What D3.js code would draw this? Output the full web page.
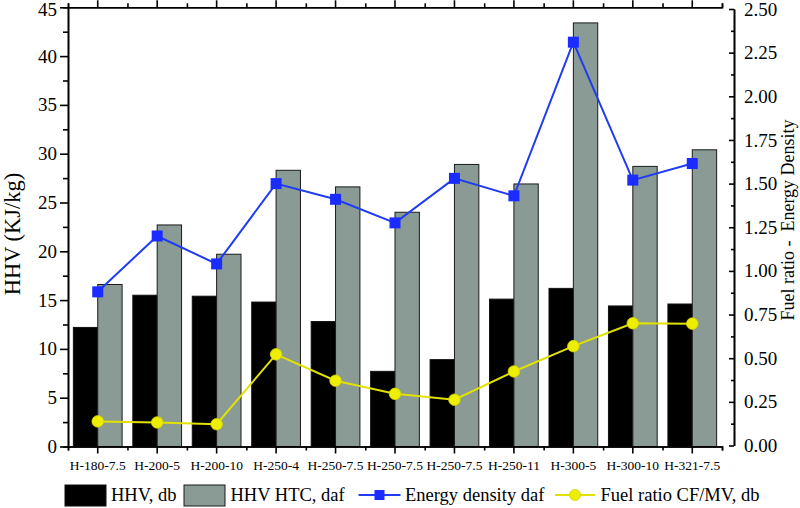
<!DOCTYPE html>
<html>
<head>
<meta charset="utf-8">
<script src="https://cdn.jsdelivr.net/npm/d3@7"></script>
<style>
  html, body { margin: 0; padding: 0; background: #fff; }
  svg { display: block; }
  text { font-family: "Liberation Serif", "Times New Roman", serif; fill: #000; }
</style>
</head>
<body>
<svg id="chart" width="800" height="508"></svg>
<script>
// ---- data ----
const categories = ["H-180-7.5", "H-200-5", "H-200-10", "H-250-4", "H-250-7.5", "H-250-7.5", "H-250-7.5", "H-250-11", "H-300-5", "H-300-10", "H-321-7.5"];
const hhvDb = [12.2, 15.5, 15.4, 14.8, 12.8, 7.7, 8.9, 15.1, 16.2, 14.4, 14.6];
const hhvHtcDaf = [16.6, 22.7, 19.7, 28.3, 26.6, 24.0, 28.9, 26.9, 43.4, 28.7, 30.4];
const energyDensity = [0.88, 1.20, 1.04, 1.50, 1.41, 1.275, 1.53, 1.43, 2.31, 1.52, 1.615];
const fuelRatio = [0.138, 0.132, 0.122, 0.522, 0.371, 0.296, 0.262, 0.424, 0.569, 0.70, 0.698];
const leftTicks = [0, 5, 10, 15, 20, 25, 30, 35, 40, 45];
const rightTicks = [0, 0.25, 0.5, 0.75, 1.0, 1.25, 1.5, 1.75, 2.0, 2.25, 2.5];
const seriesNames = ["HHV, db", "HHV HTC, daf", "Energy density daf", "Fuel ratio CF/MV, db"];

// ---- layout ----
const L = 68, R = 722, T = 7.3, B = 446.5;
const RA = 734; // offset right axis
const colBlack = "#000000", colGray = "#8a9b96", colBlue = "#1f3cf2", colBlueM = "#1a2cff", colYellow = "#e2e200", colYellowM = "#eeee00";

const svg = d3.select("#chart");
const idx = categories.map((d, i) => i);

const x = d3.scaleBand().domain(idx).range([L, R]).paddingInner(0).paddingOuter(0);
const xi = d3.scaleLinear().domain([0, categories.length]).range([L, R]);
const x1 = d3.scaleBand().domain([0, 1]).range([0, x.bandwidth()]).paddingInner(0).paddingOuter(0.22);
const yL = d3.scaleLinear().domain([0, 45]).range([B, T]);
const yR = d3.scaleLinear().domain([0, 2.5]).range([445.5, 9]);

// ---- bars ----
const gb = svg.append("g");
gb.selectAll("rect.db").data(hhvDb).join("rect")
  .attr("x", (d, i) => x(i) + x1(0)).attr("y", d => yL(d))
  .attr("width", x1.bandwidth()).attr("height", d => yL(0) - yL(d))
  .attr("fill", colBlack).attr("stroke", "#111").attr("stroke-width", 1);
gb.selectAll("rect.daf").data(hhvHtcDaf).join("rect")
  .attr("x", (d, i) => x(i) + x1(1)).attr("y", d => yL(d))
  .attr("width", x1.bandwidth()).attr("height", d => yL(0) - yL(d))
  .attr("fill", colGray).attr("stroke", "#1a1a1a").attr("stroke-width", 1);

// ---- lines ----
const cx = i => x(i) + x.bandwidth() / 2;
const lineE = d3.line().x((d, i) => cx(i)).y(d => yR(d));
svg.append("path").datum(energyDensity).attr("d", lineE)
  .attr("fill", "none").attr("stroke", colBlue).attr("stroke-width", 2);
svg.append("g").selectAll("rect").data(energyDensity).join("rect")
  .attr("x", (d, i) => cx(i) - 5.5).attr("y", d => yR(d) - 5.5)
  .attr("width", 11).attr("height", 11).attr("fill", colBlueM);

svg.append("path").datum(fuelRatio).attr("d", lineE)
  .attr("fill", "none").attr("stroke", colYellow).attr("stroke-width", 2);
svg.append("g").selectAll("circle").data(fuelRatio).join("circle")
  .attr("cx", (d, i) => cx(i)).attr("cy", d => yR(d)).attr("r", 5.8)
  .attr("fill", colYellowM).attr("stroke", "#d4d400").attr("stroke-width", 0.8);

// ---- axes ----
function styleAxis(g) {
  g.select(".domain").attr("stroke", "#000").attr("stroke-width", 1.6);
  g.selectAll(".tick line").attr("stroke", "#000").attr("stroke-width", 1.6);
}
// bottom
const gBot = svg.append("g").attr("transform", `translate(0,${B})`)
  .call(d3.axisBottom(x).tickSizeInner(7).tickSizeOuter(0).tickPadding(6.5).tickFormat(i => categories[i]))
  .call(styleAxis);
gBot.selectAll("text").style("font-size", "13.5px");
svg.append("g").attr("transform", `translate(0,${B})`)
  .call(d3.axisBottom(xi).tickValues(d3.range(categories.length + 1)).tickSize(4).tickFormat(""))
  .call(styleAxis);
// top
svg.append("g").attr("transform", `translate(0,${T})`)
  .call(d3.axisTop(x).tickSizeInner(7).tickSizeOuter(0).tickFormat(""))
  .call(styleAxis);
svg.append("g").attr("transform", `translate(0,${T})`)
  .call(d3.axisTop(xi).tickValues(d3.range(categories.length + 1)).tickSize(4).tickFormat(""))
  .call(styleAxis);
// left
const gLeft = svg.append("g").attr("transform", `translate(${L},0)`)
  .call(d3.axisLeft(yL).tickValues(leftTicks).tickSizeInner(8).tickSizeOuter(0).tickPadding(3).tickFormat(d3.format("d")))
  .call(styleAxis);
gLeft.selectAll("text").style("font-size", "19px");
gLeft.selectAll(".tick").filter(d => d === 45).select("text").attr("dy", "0.45em");
svg.append("g").attr("transform", `translate(${L},0)`)
  .call(d3.axisLeft(yL).tickValues(leftTicks.slice(0, -1).map(v => v + 2.5)).tickSize(5).tickFormat(""))
  .call(styleAxis);
// right (offset, ticks inward)
const gRight = svg.append("g").attr("transform", `translate(${RA},0)`)
  .call(d3.axisRight(yR).tickValues(rightTicks).tickSizeInner(-5).tickSizeOuter(0).tickPadding(10).tickFormat(d3.format(".2f")))
  .call(styleAxis);
gRight.selectAll("text").style("font-size", "19px");
svg.append("g").attr("transform", `translate(${RA},0)`)
  .call(d3.axisRight(yR).tickValues(rightTicks.slice(0, -1).map(v => v + 0.125)).tickSizeInner(-3).tickSizeOuter(0).tickFormat(""))
  .call(styleAxis);

// ---- axis titles ----
svg.append("text").attr("transform", "translate(20,234) rotate(-90)")
  .attr("text-anchor", "middle").style("font-size", "22.5px").text("HHV (KJ/kg)");
svg.append("text").attr("transform", "translate(794,220) rotate(-90)")
  .attr("text-anchor", "middle").style("font-size", "18px").style("white-space", "pre")
  .text("Fuel ratio -  Energy Density");

// ---- legend ----
const lg = svg.append("g").style("font-size", "18.5px");
const ly = 495;
lg.append("rect").attr("x", 65).attr("y", ly - 10).attr("width", 41).attr("height", 21).attr("fill", colBlack).attr("stroke", "#111");
lg.append("text").attr("x", 111).attr("y", ly + 6).text(seriesNames[0]);
lg.append("rect").attr("x", 184).attr("y", ly - 10).attr("width", 41).attr("height", 21).attr("fill", colGray).attr("stroke", "#1a1a1a");
lg.append("text").attr("x", 230.5).attr("y", ly + 6).text(seriesNames[1]);
lg.append("line").attr("x1", 358.6).attr("x2", 400.5).attr("y1", ly).attr("y2", ly).attr("stroke", colBlue).attr("stroke-width", 2);
lg.append("rect").attr("x", 379.5 - 5).attr("y", ly - 5).attr("width", 10).attr("height", 10).attr("fill", colBlueM);
lg.append("text").attr("x", 405).attr("y", ly + 6).text(seriesNames[2]);
lg.append("line").attr("x1", 555).attr("x2", 595).attr("y1", ly).attr("y2", ly).attr("stroke", colYellow).attr("stroke-width", 2);
lg.append("circle").attr("cx", 575).attr("cy", ly).attr("r", 5.5).attr("fill", colYellowM).attr("stroke", "#d4d400").attr("stroke-width", 0.8);
lg.append("text").attr("x", 600.5).attr("y", ly + 6).text(seriesNames[3]);
</script>
</body>
</html>
